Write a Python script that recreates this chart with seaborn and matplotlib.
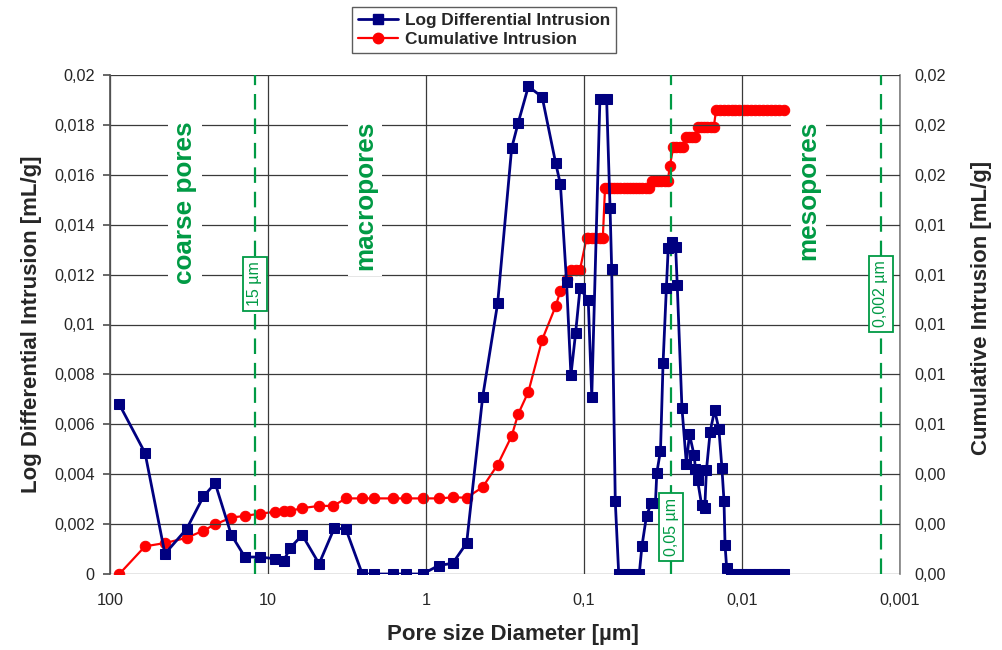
import matplotlib
matplotlib.use("Agg")
import matplotlib.pyplot as plt
import seaborn as sns
import numpy as np
import pandas as pd
from matplotlib.ticker import FuncFormatter, MultipleLocator, FixedLocator
from matplotlib.lines import Line2D

# ---------------- data ----------------
log_diff_diam = [87.3, 60.0, 44.9, 32.7, 25.6, 21.6, 17.1, 14.0, 11.2, 9.04, 7.93, 7.26,
                 6.07, 4.75, 3.80, 3.21, 2.53, 2.12, 1.61, 1.34, 1.05, 0.832, 0.678, 0.553,
                 0.438, 0.352, 0.287, 0.261, 0.225, 0.184, 0.151, 0.141, 0.129, 0.121, 0.113,
                 0.106, 0.0940, 0.0893, 0.0793, 0.0719, 0.0684, 0.0668, 0.0634, 0.0603, 0.0558,
                 0.0519, 0.0482, 0.0447, 0.0430, 0.0402, 0.0374, 0.0353, 0.0346, 0.0328, 0.0316,
                 0.0301, 0.0293, 0.0276, 0.0263, 0.0257, 0.0240, 0.0225, 0.0215, 0.0201, 0.0197,
                 0.0191, 0.0180, 0.0172, 0.0168, 0.0159, 0.0149, 0.0140, 0.0134, 0.0130, 0.0128,
                 0.0125, 0.0117, 0.0110, 0.0102, 0.00955, 0.00891, 0.00832, 0.00776, 0.00724,
                 0.00676, 0.00631, 0.00589, 0.00541]
log_diff_vals = [0.0068, 0.00485, 0.00081, 0.00181, 0.00311, 0.00364, 0.00158, 0.00068, 0.00068,
                 0.00061, 0.00054, 0.00104, 0.00156, 0.00041, 0.00185, 0.00179, 0, 0, 0, 0, 0,
                 0.00034, 0.00043, 0.00124, 0.00709, 0.01085, 0.01707, 0.01808, 0.01954, 0.01912,
                 0.01646, 0.01562, 0.01172, 0.00797, 0.00966, 0.01145, 0.01098, 0.0071, 0.01903,
                 0.01903, 0.01467, 0.01222, 0.00292, 0, 0, 0, 0, 0, 0.00111, 0.00234, 0.00286,
                 0.00286, 0.00406, 0.00494, 0.00844, 0.01148, 0.01308, 0.01332, 0.0131, 0.01159,
                 0.00667, 0.00442, 0.0056, 0.00476, 0.00422, 0.00375, 0.00276, 0.00266, 0.00415,
                 0.00571, 0.00657, 0.0058, 0.00425, 0.00293, 0.00115, 0.00023, 0, 0, 0, 0, 0, 0,
                 0, 0, 0, 0, 0, 0]

cum_diam = [87.3, 60.0, 44.9, 32.7, 25.6, 21.6, 17.1, 14.0, 11.2, 9.04, 7.93, 7.26, 6.07, 4.75,
            3.87, 3.21, 2.53, 2.12, 1.61, 1.34, 1.05, 0.832, 0.678, 0.553, 0.438, 0.352, 0.287,
            0.261, 0.225, 0.184, 0.151, 0.141, 0.129, 0.121, 0.113, 0.106, 0.0962, 0.0940,
            0.0893, 0.0850, 0.0793, 0.0760, 0.0736, 0.0708, 0.0676, 0.0646, 0.0617, 0.0589,
            0.0562, 0.0537, 0.0513, 0.0490, 0.0468, 0.0447, 0.0427, 0.0407, 0.0389, 0.0372,
            0.0355, 0.0339, 0.0324, 0.0309, 0.0295, 0.0286, 0.0272, 0.0260, 0.0248, 0.0237,
            0.0226, 0.0216, 0.0207, 0.0197, 0.0191, 0.0182, 0.0174, 0.0166, 0.0158, 0.0151,
            0.0146, 0.0138, 0.0130, 0.0123, 0.0116, 0.0110, 0.0104, 0.00977, 0.00923, 0.00871,
            0.00822, 0.00776, 0.00733, 0.00692, 0.00653, 0.00617, 0.00582, 0.00541]
cum_vals = [0, 0.00111, 0.00124, 0.00145, 0.00174, 0.00199, 0.00226, 0.00233, 0.00242, 0.00249,
            0.00253, 0.00253, 0.00264, 0.00273, 0.00273, 0.00303, 0.00303, 0.00303, 0.00303,
            0.00303, 0.00303, 0.00303, 0.00307, 0.00306, 0.00348, 0.00438, 0.00553, 0.00641,
            0.0073, 0.00939, 0.01074, 0.01135, 0.01182, 0.0122, 0.0122, 0.0122, 0.01348,
            0.01348, 0.01348, 0.01348, 0.01348, 0.01348, 0.01548, 0.01548, 0.01548, 0.01548,
            0.01548, 0.01548, 0.01548, 0.01548, 0.01548, 0.01548, 0.01548, 0.01548, 0.01548,
            0.01548, 0.01548, 0.01575, 0.01575, 0.01575, 0.01575, 0.01575, 0.01575, 0.01636,
            0.01713, 0.01713, 0.01713, 0.01713, 0.0175, 0.0175, 0.0175, 0.0175, 0.0179, 0.0179,
            0.0179, 0.0179, 0.0179, 0.0179, 0.01858, 0.01858, 0.01858, 0.01858, 0.01858,
            0.01858, 0.01858, 0.01858, 0.01858, 0.01858, 0.01858, 0.01858, 0.01858, 0.01858,
            0.01858, 0.01858, 0.01858, 0.01858]

x_ticks = [100, 10, 1, 0.1, 0.01, 0.001]
x_ticklabels = ["100", "10", "1", "0,1", "0,01", "0,001"]

boundary_pos = [12.1, 0.0281, 0.00132]
boundary_labels = ["15 µm", "0,05 µm", "0,002 µm"]
boundary_label_y = [0.01162, 0.00188, 0.01122]
region_pos = [33.5, 2.43, 0.0038]
region_labels = ["coarse pores", "macropores", "mesopores"]

# ---------------- style ----------------
sns.set_theme(style="white")
plt.rcParams['font.family'] = ['Liberation Sans', 'DejaVu Sans']

NAVY = "#000080"
RED = "#FF0000"
GREEN = "#009A44"

fig = plt.figure(figsize=(10.03, 6.5), dpi=100)
ax = fig.add_axes([110/1003, 1-574/650, 790/1003, 499/650])
ax2 = ax.twinx()

df1 = pd.DataFrame({"d": log_diff_diam, "v": log_diff_vals})
df2 = pd.DataFrame({"d": cum_diam, "v": cum_vals})

sns.lineplot(data=df2, x="d", y="v", ax=ax2, color=RED, marker="o", markersize=7.5,
             markeredgecolor=RED, linewidth=1.6, sort=False, estimator=None, zorder=3)
sns.lineplot(data=df1, x="d", y="v", ax=ax, color=NAVY, marker="s", markersize=7.5,
             markeredgecolor=NAVY, linewidth=2, sort=False, estimator=None, zorder=4)

for a in (ax, ax2):
    a.set_xscale("log")
    a.set_xlim(100, 0.001)
    a.set_ylim(0, 0.02)
    a.set_xlabel("")
    a.set_ylabel("")

ax.set_zorder(ax2.get_zorder() + 1)
ax.patch.set_visible(False)

ax.xaxis.set_major_locator(FixedLocator(x_ticks))
ax.xaxis.set_minor_locator(FixedLocator([]))
ax.set_xticklabels(x_ticklabels)
ax.yaxis.set_major_locator(MultipleLocator(0.002))
ax2.yaxis.set_major_locator(MultipleLocator(0.002))
ax.yaxis.set_major_formatter(FuncFormatter(lambda v, p: ("{:g}".format(round(v, 6))).replace(".", ",")))
ax2.yaxis.set_major_formatter(FuncFormatter(lambda v, p: ("{:.2f}".format(v)).replace(".", ",")))

ax.grid(True, which="major", axis="both", color="#3a3a3a", linewidth=0.9)
ax2.grid(False)

for a in (ax, ax2):
    for s in a.spines.values():
        s.set_visible(False)
ax.spines["left"].set_visible(True)
ax.spines["left"].set_color("#555555")
ax2.spines["right"].set_visible(True)
ax2.spines["right"].set_color("#888888")

TICK_FS = 11.7
ax.tick_params(axis="y", which="major", direction="out", length=5, color="#555555",
               labelsize=TICK_FS, pad=6, left=True)
ax.tick_params(axis="x", which="major", length=0, labelsize=TICK_FS, pad=14)
ax2.tick_params(axis="y", which="major", direction="in", length=0, labelsize=TICK_FS, pad=10)
ax2.tick_params(axis="x", which="both", length=0)

ax.set_xlabel("Pore size Diameter [µm]", fontsize=16, fontweight="bold")
ax.xaxis.set_label_coords(0.510, -0.100)
ax.set_ylabel("Log Differential Intrusion [mL/g]", fontsize=16, fontweight="bold", labelpad=9)
ax2.set_ylabel("Cumulative Intrusion [mL/g]", fontsize=16, fontweight="bold")
ax2.yaxis.set_label_coords(1.090, 0.533)

for xp, lab, yb in zip(boundary_pos, boundary_labels, boundary_label_y):
    ax.axvline(xp, color=GREEN, linestyle=(0, (7, 4)), linewidth=1.6, zorder=2)
    ax.text(xp, yb, lab, rotation=90, ha="center", va="center", fontsize=11.5, color=GREEN,
            bbox=dict(boxstyle="square,pad=0.3", facecolor="white", edgecolor=GREEN, linewidth=1.3),
            zorder=5)

for xp, lab in zip(region_pos, region_labels):
    ax.text(xp, 0.01816, lab, rotation=90, ha="center", va="top", fontsize=18.8,
            fontweight="bold", color=GREEN,
            bbox=dict(boxstyle="square,pad=0.2", facecolor="white", edgecolor="none"),
            zorder=5)

handles = [Line2D([], [], color=NAVY, marker="s", markersize=7.5, linewidth=2),
           Line2D([], [], color=RED, marker="o", markersize=7.5, linewidth=1.6)]
leg = fig.legend(handles, ["Log Differential Intrusion", "Cumulative Intrusion"],
                 loc="upper left", bbox_to_anchor=(352/1003, 1 - 7/650),
                 frameon=True, fancybox=False, prop={"weight": "bold", "size": 12.4},
                 handlelength=2.3, borderpad=0.35, labelspacing=0.25, handletextpad=0.4,
                 borderaxespad=0)
leg.get_frame().set_edgecolor("#333333")
leg.get_frame().set_linewidth(1.0)

fig.savefig("out.png", dpi=100)
